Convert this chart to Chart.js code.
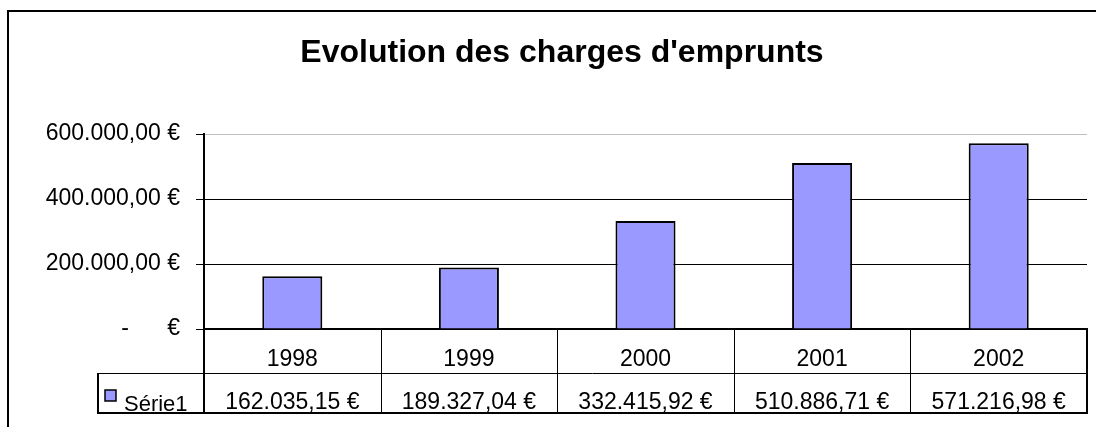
<!DOCTYPE html>
<html>
<head>
<meta charset="utf-8">
<script src="https://cdn.jsdelivr.net/npm/chart.js@4/dist/chart.umd.min.js"></script>
<style>
  html, body { margin: 0; padding: 0; background: #fff; }
  canvas { display: block; }
</style>
</head>
<body>
<canvas id="chargesChart" width="1096" height="427"></canvas>
<script>
// data
var years = ['1998', '1999', '2000', '2001', '2002'];
var charges = [162035.15, 189327.04, 332415.92, 510886.71, 571216.98];
var seriesName = 'Série1';
var yTicks = [0, 200000, 400000, 600000];

function euro(v) {
  var parts = v.toFixed(2).split('.');
  return parts[0].replace(/\B(?=(\d{3})+(?!\d))/g, '.') + ',' + parts[1] + ' €';
}

function axisLabel(v) {
  if (v === 0) return '-      €';
  return euro(v);
}

// outer frame + data table under the x axis
var dataTablePlugin = {
  id: 'dataTable',
  beforeDraw: function (chart) {
    var ctx = chart.ctx;
    ctx.save();
    ctx.fillStyle = '#fff';
    ctx.fillRect(0, 0, chart.width, chart.height);
    ctx.strokeStyle = '#000';
    ctx.lineWidth = 2;
    ctx.beginPath();
    ctx.moveTo(8, chart.height);
    ctx.lineTo(8, 11);
    ctx.lineTo(chart.width, 11);
    ctx.stroke();
    ctx.restore();
  },
  afterDraw: function (chart) {
    var ctx = chart.ctx;
    var x = chart.scales.x;
    var top = chart.chartArea.bottom;
    var rowSplit = 373, bottom = 413, legendLeft = 98;
    var step = (x.right - x.left) / years.length;

    ctx.save();
    ctx.strokeStyle = '#000';

    // inner column separators
    ctx.lineWidth = 1;
    ctx.beginPath();
    for (var k = 1; k < years.length; k++) {
      var bx = Math.round(x.left + k * step) + 0.5;
      ctx.moveTo(bx, top);
      ctx.lineTo(bx, bottom);
    }
    ctx.moveTo(legendLeft, rowSplit + 0.5);
    ctx.lineTo(x.right, rowSplit + 0.5);
    ctx.stroke();

    // outer lines of the table
    ctx.lineWidth = 2;
    ctx.beginPath();
    ctx.moveTo(x.left, top);
    ctx.lineTo(x.left, bottom);
    ctx.moveTo(x.right, top);
    ctx.lineTo(x.right, bottom);
    ctx.moveTo(legendLeft, rowSplit);
    ctx.lineTo(legendLeft, bottom);
    ctx.moveTo(legendLeft - 1, bottom);
    ctx.lineTo(x.right + 1, bottom);
    ctx.stroke();

    // legend key
    ctx.lineWidth = 1.5;
    ctx.fillStyle = '#9999FF';
    ctx.fillRect(105, 390, 11, 11);
    ctx.strokeRect(105, 390, 11, 11);

    ctx.fillStyle = '#000';
    ctx.font = '22px "Liberation Sans", Arial, sans-serif';
    ctx.textBaseline = 'alphabetic';
    ctx.textAlign = 'left';
    ctx.fillText(seriesName, 124, 411);

    ctx.font = '23px "Liberation Sans", Arial, sans-serif';
    ctx.textAlign = 'center';
    charges.forEach(function (v, i) {
      ctx.fillText(euro(v), x.getPixelForValue(i), 409);
    });
    ctx.restore();
  }
};

Chart.defaults.font.family = '"Liberation Sans", Arial, sans-serif';
Chart.defaults.color = '#000';

new Chart(document.getElementById('chargesChart'), {
  type: 'bar',
  data: {
    labels: years,
    datasets: [{
      label: seriesName,
      data: charges,
      backgroundColor: '#9999FF',
      borderColor: '#000',
      borderWidth: 2,
      categoryPercentage: 1,
      barPercentage: 0.34
    }]
  },
  options: {
    responsive: false,
    animation: false,
    layout: {
      padding: { top: 10, left: 37, right: 9, bottom: 0 }
    },
    scales: {
      x: {
        grid: { display: false },
        border: { display: true, color: '#000', width: 2 },
        ticks: { padding: 9, font: { size: 23 }, color: '#000' },
        afterFit: function (scale) { scale.height = 98; }
      },
      y: {
        min: 0,
        max: 600000,
        afterBuildTicks: function (scale) {
          scale.ticks = yTicks.map(function (v) { return { value: v }; });
        },
        afterFit: function (scale) { scale.width = 204 - 37; },
        ticks: {
          padding: 16,
          font: { size: 23 },
          color: '#000',
          callback: function (value) { return axisLabel(value); }
        },
        grid: {
          color: function (c) { return c.tick && c.tick.value === 600000 ? '#c0c0c0' : '#000'; },
          tickColor: '#000',
          tickLength: 8,
          lineWidth: 1
        },
        border: { color: '#000', width: 2 }
      }
    },
    plugins: {
      legend: { display: false },
      tooltip: { enabled: false },
      title: {
        display: true,
        text: "Evolution des charges d'emprunts",
        color: '#000',
        font: { size: 32, weight: 'bold' },
        padding: { top: 24, bottom: 61.6 }
      }
    }
  },
  plugins: [dataTablePlugin]
});
</script>
</body>
</html>
